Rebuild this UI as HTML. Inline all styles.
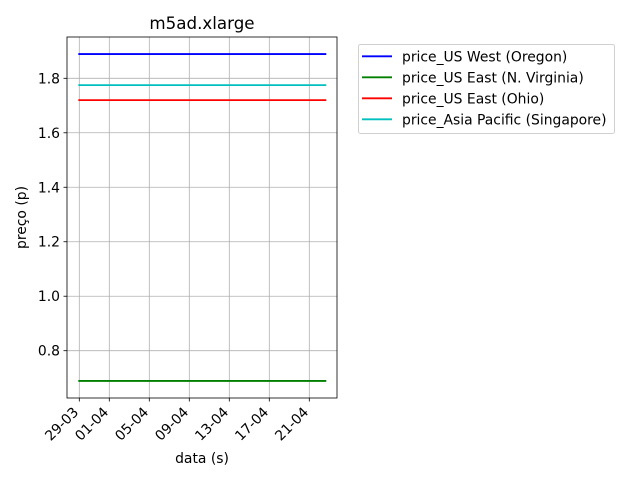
<!DOCTYPE html>
<html><head><meta charset="utf-8"><style>
body{margin:0;background:#fff;}
svg{display:block;font-family:"DejaVu Sans","Liberation Sans",sans-serif;}
</style></head><body>
<svg id="c" width="640" height="480"></svg>
<script>
const seriesNames=["price_US West (Oregon)","price_US East (N. Virginia)","price_US East (Ohio)","price_Asia Pacific (Singapore)"];
const seriesColors=["#0000ff","#008000","#ff0000","#00bfbf"];
const seriesValues=[1.889,0.689,1.72,1.775];
const dayStart=-0.1, dayEnd=24.7; // days since 29-03
const xTickDays=[0,3,7,11,15,19,23];
const xTickLabels=["29-03","01-04","05-04","09-04","13-04","17-04","21-04"];
const yTicks=[0.8,1.0,1.2,1.4,1.6,1.8];
const yTickLabels=["0.8","1.0","1.2","1.4","1.6","1.8"];

const L=67,R=337,T=37,B=398;
const x=d=>79.3+d*10;
const y=v=>350.7-(v-0.8)*272.4;
const ns="http://www.w3.org/2000/svg";
const svg=document.getElementById('c');
function mk(tag,attrs,parent){const e=document.createElementNS(ns,tag);for(const k in attrs)e.setAttribute(k,attrs[k]);(parent||svg).appendChild(e);return e;}

const grid=mk('g',{});


xTickDays.forEach((d,i)=>{
  const X=x(d);
  mk('line',{x1:X,x2:X,y1:T,y2:B,stroke:'#b0b0b0','stroke-width':0.8},grid);
  const t=mk('line',{x1:X,x2:X,y1:B,y2:B+3.5,stroke:'#000','stroke-width':0.8});
  
  
  const ax=X, ay=B+15;
  const lb=mk('text',{x:ax,y:ay,'font-size':13.9,'text-anchor':'end',transform:`rotate(-45 ${ax} ${ay})`});
  lb.textContent=xTickLabels[i];
  
  
});
yTicks.forEach((v,i)=>{
  const Y=y(v);
  mk('line',{x1:L,x2:R,y1:Y,y2:Y,stroke:'#b0b0b0','stroke-width':0.8},grid);
  const t=mk('line',{x1:L-3.5,x2:L,y1:Y,y2:Y,stroke:'#000','stroke-width':0.8});
  
  
  const lb=mk('text',{x:L-7,y:Y+5,'font-size':13.9,'text-anchor':'end'});
  lb.textContent=yTickLabels[i];
  
  
});
seriesValues.forEach((v,i)=>{
  const l=mk('line',{x1:x(dayStart),x2:x(dayEnd),y1:y(v),y2:y(v),stroke:seriesColors[i],'stroke-width':1.8});
  
  
});
const frame=mk('rect',{x:L,y:T,width:R-L,height:B-T,fill:'none',stroke:'#000','stroke-width':0.8});



const title=mk('text',{x:(L+R)/2,y:29,'font-size':16.7,'text-anchor':'middle'});
title.textContent='m5ad.xlarge';


const xt=mk('text',{x:(L+R)/2,y:463,'font-size':13.9,'text-anchor':'middle'});
xt.textContent='data (s)';


const yt=mk('text',{x:26,y:(T+B)/2,'font-size':13.9,'text-anchor':'middle',transform:`rotate(-90 26 ${(T+B)/2})`});
yt.textContent='preço (p)';



const lg=mk('g',{});


mk('rect',{x:358.5,y:44.5,width:256,height:89,rx:2,fill:'#fff',stroke:'#d0d0d0','stroke-width':1},lg);
seriesNames.forEach((n,i)=>{
  const Y=56.3+i*21;
  const ln=mk('line',{x1:362,x2:392,y1:Y,y2:Y,stroke:seriesColors[i],'stroke-width':1.8},lg);
  
  
  const t=mk('text',{x:402,y:Y+5,'font-size':13.9},lg);
  t.textContent=n;
  
  
});
</script>
</body></html>
